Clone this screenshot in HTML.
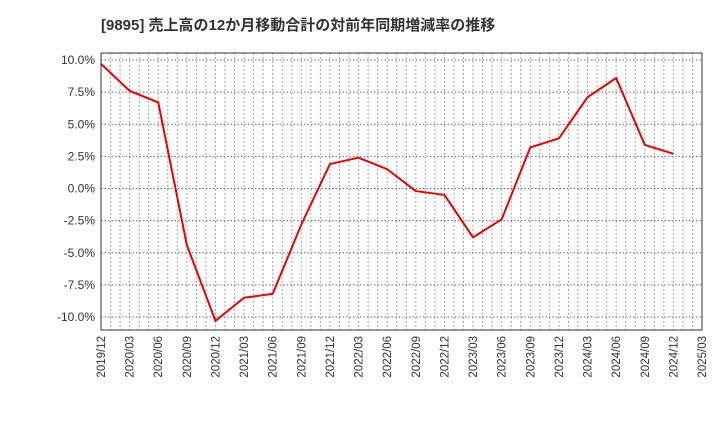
<!DOCTYPE html>
<html><head><meta charset="utf-8"><style>
body{margin:0;background:#fff;}
svg{display:block;font-family:"Liberation Sans","Noto Sans CJK JP",sans-serif;}
</style></head><body>
<svg id="chart" width="720" height="440" viewBox="0 0 720 440" xmlns="http://www.w3.org/2000/svg">
<text x="101" y="30" font-size="15" font-weight="bold" fill="#333">[9895]  売上高の12か月移動合計の対前年同期増減率の推移</text>
<g id="grid"></g>
<g id="axes"></g>
<g id="series"></g>
<rect x="101" y="53" width="601" height="277" fill="none" stroke="#333" stroke-width="1"/>
</svg>
<script>
const categories=["2019/12","2020/03","2020/06","2020/09","2020/12","2021/03","2021/06","2021/09","2021/12","2022/03","2022/06","2022/09","2022/12","2023/03","2023/06","2023/09","2023/12","2024/03","2024/06","2024/09","2024/12","2025/03"];
const values=[9.7,7.6,6.7,-4.4,-10.3,-8.5,-8.2,-2.8,1.9,2.4,1.5,-0.2,-0.5,-3.8,-2.4,3.2,3.9,7.1,8.6,3.4,2.7];
const yTicks=[10,7.5,5,2.5,0,-2.5,-5,-7.5,-10];
const yTickLabels=["10.0%","7.5%","5.0%","2.5%","0.0%","-2.5%","-5.0%","-7.5%","-10.0%"];
const NS="http://www.w3.org/2000/svg";
const x0=101,x1=702,yTop=53,yBot=330;
function xs(i){return x0+i*(x1-x0)/(categories.length-1);}
function ys(v){return 188.5-v*12.85;}
const grid=document.getElementById('grid'),axes=document.getElementById('axes'),ser=document.getElementById('series');
function mk(tag,attrs,parent){const e=document.createElementNS(NS,tag);for(const k in attrs)e.setAttribute(k,attrs[k]);parent.appendChild(e);return e;}
const nMonths=(categories.length-1)*3;
for(let m=1;m<nMonths;m++){const x=x0+m*(x1-x0)/nMonths;
const l=mk('line',{x1:x,x2:x,y1:yTop,y2:yBot,stroke:'#888','stroke-dasharray':'1.5,2.5','stroke-width':1},grid);

}
yTicks.forEach((t,i)=>{const y=ys(t);
const l=mk('line',{x1:x0,x2:x1,y1:y,y2:y,stroke:'#666','stroke-dasharray':'1.5,2','stroke-width':1},grid);


const tx=mk('text',{x:x0-6,y:y+4,'font-size':12,'text-anchor':'end',fill:'#333'},axes);tx.textContent=yTickLabels[i];

});
categories.forEach((c,i)=>{const x=xs(i);
const tx=mk('text',{x:x+4,y:336,'font-size':11.5,'text-anchor':'end',fill:'#333',transform:`rotate(-90 ${x+4} 336)`},axes);tx.textContent=c;

});
const pts=values.map((v,i)=>xs(i)+','+ys(v)).join(' ');
const pl=mk('polyline',{points:pts,fill:'none',stroke:'#e00','stroke-width':2,'stroke-linejoin':'miter'},ser);


</script>
</body></html>
